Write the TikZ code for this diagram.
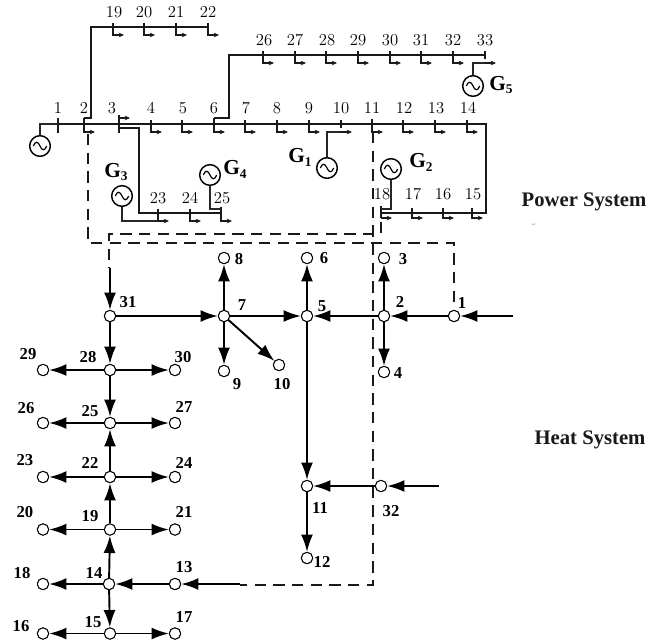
\documentclass[tikz,border=0pt]{standalone}
\usepackage{fontspec}
\newfontfamily\tmsfont{Liberation Serif}
\newfontfamily\symfont{DejaVu Sans}
\usetikzlibrary{arrows.meta}
\newcommand{\Gname}[1]{{\tmsfont\fontsize{16}{16}\selectfont\bfseries G\raisebox{-0.4ex}{\fontsize{10}{10}\selectfont #1}}}
\newcommand{\loadat}[2]{\draw[loadline] (#1) -- ++(0,#2) -- ++(11,0);}
\tikzset{
  busline/.style={line width=1.3pt,black!90},
  tickline/.style={line width=1pt,black!90},
  thinline/.style={line width=0.85pt,black!85},
  loadline/.style={line width=0.85pt,black!90,-{Stealth[length=4pt,width=3.5pt]}},
  dashline/.style={line width=1.3pt,black!90,dash pattern=on 8.5pt off 5.5pt},
  flow/.style={line width=1.45pt,black,-{Latex[length=13pt,width=9pt]}},
  heatnode/.style={circle,draw=black,fill=white,line width=0.7pt,minimum size=8.5pt,inner sep=0pt},
  plab/.style={inner sep=0pt,font=\fontsize{12.5}{12.5}\selectfont},
  hlab/.style={inner sep=0pt,font=\tmsfont\fontsize{12.5}{12.5}\selectfont\bfseries},
  gen/.style={circle,draw=black,line width=1.1pt,minimum size=15.5pt,inner sep=0pt,
    path picture={\draw[line width=0.9pt,shift={(path picture bounding box.center)},x=1pt,y=1pt]
      (-5,0) .. controls (-3.5,4) and (-1.5,3.5) .. (0,0) .. controls (1.5,-3.5) and (3.5,-4) .. (5,0);}},
  title/.style={inner sep=0pt,font=\tmsfont\fontsize{15.5}{16}\selectfont\bfseries,black!90},
}
\begin{document}
\begin{tikzpicture}[x=0.75pt,y=-0.75pt]
\useasboundingbox (0,0) rectangle (648,643);
% --- bus coordinates
\foreach \n/\x in {1/58,2/84,3/119,4/151,5/182,6/214,7/245,8/277,9/309,10/341,11/372,12/403,13/435,14/467}
  {\coordinate (b\n) at (\x,124);}
\foreach \n/\x in {19/113,20/144,21/176,22/208} {\coordinate (b\n) at (\x,27);}
\foreach \n/\x in {26/263,27/295,28/326,29/358,30/390,31/421,32/453,33/485} {\coordinate (b\n) at (\x,55);}
\foreach \n/\x in {23/158,24/190,25/221,18/381,17/412,16/443,15/472} {\coordinate (b\n) at (\x,213);}
\coordinate (cornerR) at (486,124);
\coordinate (cornerB) at (486,213);
% --- heat nodes (placed first so that connectors can use their names)
\foreach \n/\x/\y in {31/110/316,28/110/370,25/110/423,22/110/477,19/110/529.5,14/109/584,15/110/633.5,
  29/43/370,26/43/423,23/43/477,20/43/529.5,18/43/584,16/43/633.5,
  30/175/370,27/175/423,24/175/477,21/175/529.5,13/175/584,17/175/633.5,
  7/224/316,8/224/258,9/224/371,10/279/365,5/307/316,6/307/258,2/384/316,3/384/258,4/384/372,
  1/454/316,11/307/486,12/307/558,32/381/486}
  {\node[heatnode] (h\n) at (\x,\y) {};}
\coordinate (in1) at (513,316);
\coordinate (in32) at (439,486);
\coordinate (in13) at (240,584);
\coordinate (in31) at (110,268);
% --- generators
\node[gen] (g0) at (40,146) {};
\node[gen] (g1) at (327,168) {};
\node[gen] (g2) at (391,169) {};
\node[gen] (g3) at (122,196) {};
\node[gen] (g4) at (210,175) {};
\node[gen] (g5) at (473,86) {};
% --- power network lines
\draw[busline] (b1) -- (cornerR) -- (cornerB) -- (b18);
\draw[line width=1.8pt,black!90] (b1) -- (b2);
\draw[busline] (b2) ++(0,-6) -- ++(7,0) -- (91,27) -- (b22);
\draw[busline] (b6) ++(0,-6) -- ++(15,0) -- (229,55) -- (b33);
\draw[busline] (119,128) -- (139,128) -- (139,213) -- (b25);
% ticks and loads
\foreach \n in {4,5,7,8,9,12,13,14} {\draw[tickline] (b\n) ++(0,-4) -- ++(0,4);\loadat{b\n}{8}}
\foreach \n in {19,20,21,22,26,27,28,29,30,31,32} {\draw[tickline] (b\n) ++(0,-4) -- ++(0,4);\loadat{b\n}{8}}
\foreach \n in {15,16,17} {\draw[tickline] (b\n) ++(0,-5) -- ++(0,5);\loadat{b\n}{5}}
\foreach \n in {23,24} {\draw[tickline] (b\n) ++(0,-4) -- ++(0,4);\loadat{b\n}{8}}
\draw[tickline] (b1) ++(0,-6) -- ++(0,15);
\draw[tickline] (b2) ++(0,-6) -- ++(0,8);
\loadat{b2}{8}
\draw[tickline] (b6) ++(0,-6) -- ++(0,6);
\loadat{b6}{8}
\draw[tickline] (b3) ++(0,-9) -- ++(0,18);
\draw[loadline] (b3) ++(0,-6) -- ++(11,0);
\draw[tickline] (b10) ++(0,-4) -- ++(0,8);
\draw[loadline] (b10) ++(0,8) -- ++(11,0);
\draw[line width=1.4pt,black!90] (b11) ++(0,-5) -- ++(0,10);
\loadat{b11}{8}
\draw[tickline] (b33) ++(0,-4) -- ++(0,8);
\draw[loadline] (b33) ++(0,8) -- ++(11,0);
\draw[tickline] (b25) ++(0,-6) -- ++(0,8);
\loadat{b25}{8}
\draw[tickline] (b18) ++(0,-7) -- ++(0,12);
\draw[loadline] (b18) ++(0,5) -- ++(11,0);
% generator feeders
\draw[thinline] (g0) -- (40,124) -- (b1);
\draw[thinline] (g1) -- (327,132) -- (341,132);
\draw[thinline] (g2) -- (391,209) -- (381,209);
\draw[thinline] (g3) -- (122,221) -- (158,221);
\draw[thinline] (g4) -- (210,209) -- (221,209);
\draw[thinline] (g5) -- (473,63) -- (485,63);
% --- coupling dashed lines
\draw[dashline] (88,134) -- (88,243) -- (454,243) -- (454,308);
\draw[dashline] (381,222) -- (381,234) -- (109,234) -- (109,268);
\draw[dashline] (373,132) -- (373,585) -- (240,585);
% --- heat flows
\draw[flow] (in31) -- (h31);
\draw[flow] (in13) -- (h13);
\draw[flow] (in1) -- (h1);
\draw[flow] (in32) -- (h32);
\foreach \a/\b in {31/28,28/25,22/25,19/22,14/19,14/15,28/29,28/30,25/26,25/27,22/23,22/24,19/20,19/21,14/18,15/16,15/17,13/14,
  31/7,7/5,7/8,7/9,7/10,5/6,5/11,2/5,2/3,2/4,1/2,11/12,32/11}
  {\draw[flow] (h\a) -- (h\b);}
% --- node outlines above the lines
\foreach \n/\x/\y in {31/110/316,28/110/370,25/110/423,22/110/477,19/110/529.5,14/109/584,15/110/633.5,
  29/43/370,26/43/423,23/43/477,20/43/529.5,18/43/584,16/43/633.5,
  30/175/370,27/175/423,24/175/477,21/175/529.5,13/175/584,17/175/633.5,
  7/224/316,8/224/258,9/224/371,10/279/365,5/307/316,6/307/258,2/384/316,3/384/258,4/384/372,
  1/454/316,11/307/486,12/307/558,32/381/486}
  {\node[heatnode] at (\x,\y) {};}
% --- power labels
\foreach \n/\x/\y in {1/58/108,2/84/108,3/112/108,4/151/108,5/183/108,6/214/108,7/246/108,8/277/108,9/309/108,
  10/341/108,11/372/108,12/404/108,13/436/108,14/468/108,
  19/114/12,20/144/12,21/176/12,22/208/12,
  26/264/40,27/295/40,28/327/40,29/358/40,30/390/40,31/421/40,32/453/40,33/485/40,
  23/158/198,24/190/198,25/222/198,18/382/194,17/413/194,16/443/194,15/473/194}
  {\node[plab] (pl\n) at (\x,\y) {\n};}
% --- heat labels
\foreach \n/\x/\y in {31/128/302,7/242/305,5/322/306,8/239/259,6/324/258,3/403/259,2/400/302,1/462/303,4/398/373,
  9/237/384,10/282/384,29/28/354,28/88/357,30/183/357,26/26/408,25/90/411,27/184/407,23/25/460,22/90/463,
  24/184/463,20/25/512,19/90/516,21/184/512,18/22/573,14/94/573,13/184/567,16/21/626,15/93/622,17/184/617,
  11/320/508,12/322/562,32/391/511}
  {\node[hlab] (hl\n) at (\x,\y) {\n};}
% --- generator labels
\node[inner sep=0pt] (gl1) at (300,157) {\Gname{1}};
\node[inner sep=0pt] (gl2) at (421,162) {\Gname{2}};
\node[inner sep=0pt] (gl3) at (116,172) {\Gname{3}};
\node[inner sep=0pt] (gl4) at (235,169) {\Gname{4}};
\node[inner sep=0pt] (gl5) at (501,85) {\Gname{5}};
% --- titles
\node[title] (tp) at (584,202) {Power System};
\node[title] (th) at (590,440) {Heat System};
\node[inner sep=0pt,text=black!40,font=\symfont\fontsize{4}{4}\selectfont] (mark) at (534,225) {↵};
\end{tikzpicture}
\end{document}
